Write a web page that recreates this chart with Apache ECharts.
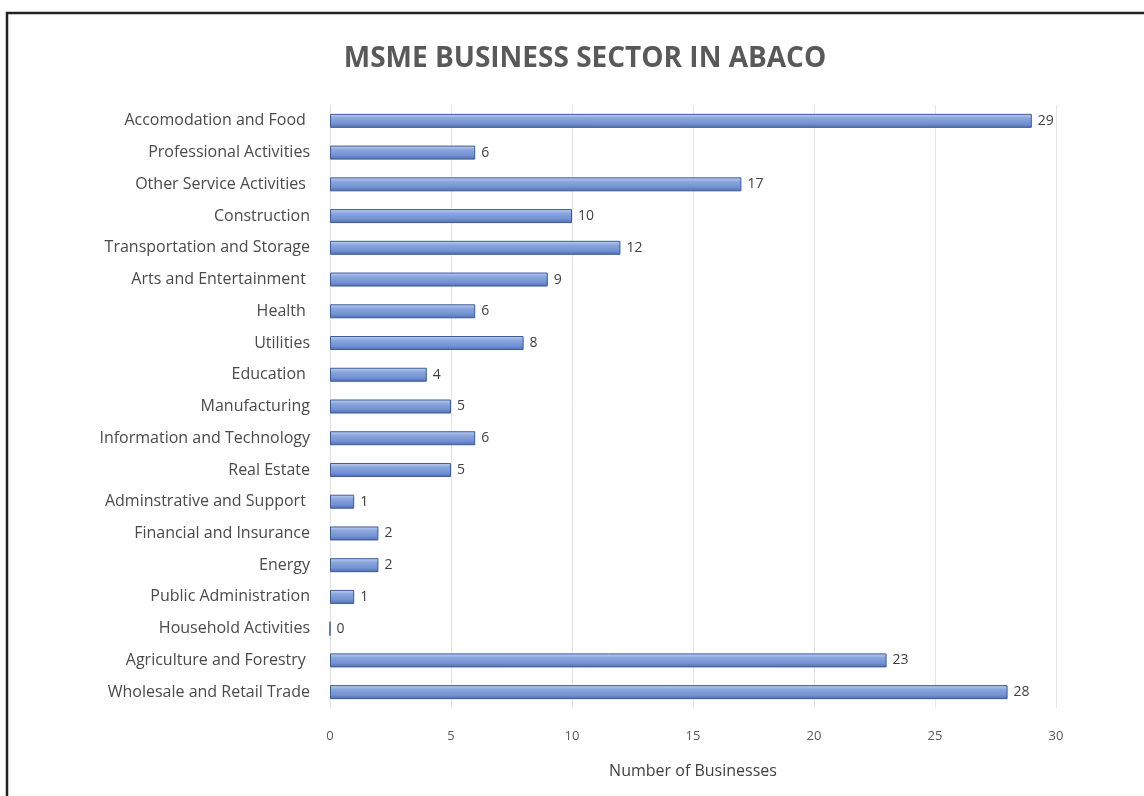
<!DOCTYPE html>
<html><head><meta charset="utf-8">
<script src="https://cdn.jsdelivr.net/npm/echarts@6/dist/echarts.min.js"></script>
<style>html,body{margin:0;padding:0;background:#fff}#c{width:1144px;height:796px}</style>
</head><body><div id="c"></div>
<script>
const categories = ["Accomodation and Food ","Professional Activities","Other Service Activities ","Construction","Transportation and Storage","Arts and Entertainment ","Health ","Utilities","Education ","Manufacturing","Information and Technology","Real Estate","Adminstrative and Support ","Financial and Insurance","Energy","Public Administration","Household Activities","Agriculture and Forestry ","Wholesale and Retail Trade"];
const values = [29,6,17,10,12,9,6,8,4,5,6,5,1,2,2,1,0,23,28];
const xTicks = [0,5,10,15,20,25,30];

const chart = echarts.init(document.getElementById('c'));
chart.setOption({
  animation:false,
  backgroundColor:'#fff',
  title:{text:'MSME BUSINESS SECTOR IN ABACO', left:580, top:40, textAlign:'center',
    textStyle:{fontFamily:'Open Sans', fontWeight:'bold', fontSize:28, color:'#595959'}},
  graphic:[{type:'rect', shape:{x:7,y:13,width:1200,height:900}, style:{fill:'none', stroke:'#222', lineWidth:2.5}, silent:true}],
  grid:{left:330, right:88, top:105, bottom:88, containLabel:false},
  xAxis:{type:'value', min:0, max:30, interval:5,
    name:'Number of Businesses', nameLocation:'middle', nameGap:55,
    nameTextStyle:{fontFamily:'Open Sans', fontSize:16, color:'#404040'},
    axisLine:{show:false}, axisTick:{show:false},
    axisLabel:{fontFamily:'Open Sans', fontSize:13, color:'#595959', margin:22, formatter:v=>xTicks.includes(v)?String(v):''},
    splitLine:{show:true, lineStyle:{color:'#e6e6e6', width:1}}},
  yAxis:{type:'category', data:categories, inverse:true,
    axisLine:{show:true, lineStyle:{color:'#e0e0e0'}}, axisTick:{show:false},
    axisLabel:{fontFamily:'Open Sans', fontSize:16, color:'#4a4a4a', margin:20}},
  series:[{type:'bar', data:values, barWidth:14,
    itemStyle:{color:new echarts.graphic.LinearGradient(0,0,0,1,[
      {offset:0,color:'#c3d2f0'},{offset:0.3,color:'#8aa6de'},{offset:0.7,color:'#7392d2'},{offset:1,color:'#4f6eb0'}]),
      borderColor:'#3c5a99', borderWidth:1},
    label:{show:true, position:'right', distance:6, fontFamily:'Open Sans', fontSize:14, color:'#404040'}
  }]
});
</script></body></html>
